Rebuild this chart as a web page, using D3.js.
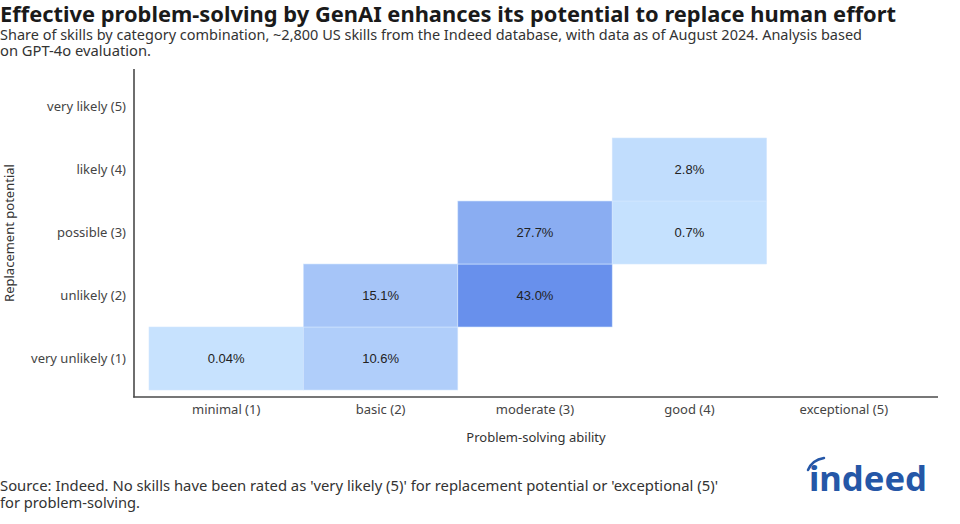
<!DOCTYPE html>
<html><head><meta charset="utf-8">
<script src="https://cdn.jsdelivr.net/npm/d3@7"></script>
<style>
body{margin:0;background:#fff;}
svg{display:block;font-family:"Noto Sans",sans-serif;}
</style></head>
<body><svg id="c" width="960" height="524"></svg>
<script>
const xCategories = ["minimal (1)","basic (2)","moderate (3)","good (4)","exceptional (5)"];
const yCategories = ["very unlikely (1)","unlikely (2)","possible (3)","likely (4)","very likely (5)"];
// cells: problem-solving category, replacement category, share (%) and label
const cellX = ["minimal (1)","basic (2)","basic (2)","moderate (3)","moderate (3)","good (4)","good (4)"];
const cellY = ["very unlikely (1)","very unlikely (1)","unlikely (2)","unlikely (2)","possible (3)","possible (3)","likely (4)"];
const cellValues = [0.04,10.6,15.1,43.0,27.7,0.7,2.8];
const cellLabels = ["0.04%","10.6%","15.1%","43.0%","27.7%","0.7%","2.8%"];

const svg = d3.select("#c");
const fit = (sel, w) => sel.attr("textLength", w).attr("lengthAdjust","spacingAndGlyphs");

fit(svg.append("text").attr("x",0).attr("y",22).attr("font-size",22).attr("font-weight",700).attr("fill","#1a1a1a")
  .text("Effective problem-solving by GenAI enhances its potential to replace human effort"), 896);
fit(svg.append("text").attr("x",0).attr("y",40).attr("font-size",13.5).attr("fill","#333")
  .text("Share of skills by category combination, ~2,800 US skills from the Indeed database, with data as of August 2024. Analysis based"), 862);
fit(svg.append("text").attr("x",0).attr("y",56).attr("font-size",13.5).attr("fill","#333")
  .text("on GPT-4o evaluation."), 151);

const x = d3.scaleBand().domain(xCategories).range([149,921]).padding(0);
const y = d3.scaleBand().domain(yCategories).range([390,75]).padding(0);
const color = d3.scaleLinear().domain([0,43]).range(["#c7e2fe","#6890ec"]);

const g = svg.append("g");
g.selectAll("rect").data(cellValues).join("rect")
  .attr("x",(d,i)=>x(cellX[i])).attr("y",(d,i)=>y(cellY[i]))
  .attr("width",x.bandwidth()).attr("height",y.bandwidth())
  .attr("fill",d=>color(d)).attr("stroke","#d4e6fd").attr("stroke-width",0.6);
g.selectAll("text.v").data(cellLabels).join("text").attr("class","v")
  .attr("x",(d,i)=>x(cellX[i])+x.bandwidth()/2).attr("y",(d,i)=>y(cellY[i])+y.bandwidth()/2)
  .attr("dy","0.35em").attr("text-anchor","middle").attr("font-family","'Liberation Sans',Arial,sans-serif")
  .attr("font-size",13).attr("fill","#222").text(d=>d);

// axes
const xAxis = svg.append("g").attr("transform","translate(0,397)")
  .call(d3.axisBottom(x).tickSize(0).tickPadding(8));
xAxis.select(".domain").remove();
xAxis.selectAll("text").attr("font-size",13).attr("fill","#444").attr("font-family","'Noto Sans',sans-serif");
const yAxis = svg.append("g").attr("transform","translate(126,0)")
  .call(d3.axisLeft(y).tickSize(0).tickPadding(0));
yAxis.select(".domain").remove();
yAxis.selectAll("text").attr("font-size",13).attr("fill","#444").attr("font-family","'Noto Sans',sans-serif");

svg.append("line").attr("x1",134).attr("x2",134).attr("y1",69).attr("y2",397.5).attr("stroke","#4a4a4a").attr("stroke-width",1.6);
svg.append("line").attr("x1",133.2).attr("x2",938).attr("y1",397).attr("y2",397).attr("stroke","#4a4a4a").attr("stroke-width",1.6);

svg.append("text").attr("x",536).attr("y",442).attr("text-anchor","middle").attr("font-size",13).attr("fill","#333").text("Problem-solving ability");
svg.append("text").attr("transform","translate(14,233) rotate(-90)").attr("text-anchor","middle").attr("font-size",13).attr("fill","#333").text("Replacement potential");

fit(svg.append("text").attr("x",0).attr("y",491).attr("font-size",13.5).attr("fill","#333")
  .text("Source: Indeed. No skills have been rated as 'very likely (5)' for replacement potential or 'exceptional (5)'"), 718);
fit(svg.append("text").attr("x",0).attr("y",508).attr("font-size",13.5).attr("fill","#333")
  .text("for problem-solving."), 140);

// logo
const logo = svg.append("g");
fit(logo.append("text").attr("x",809).attr("y",491).attr("font-size",34).attr("font-weight",700).attr("fill","#2557a7")
  .attr("font-family","'Noto Sans',sans-serif").text("indeed"), 118);
logo.append("path").attr("d","M808,470 Q812,460 824,458").attr("fill","none").attr("stroke","#2557a7").attr("stroke-width",2.5).attr("stroke-linecap","round");
</script></body></html>
